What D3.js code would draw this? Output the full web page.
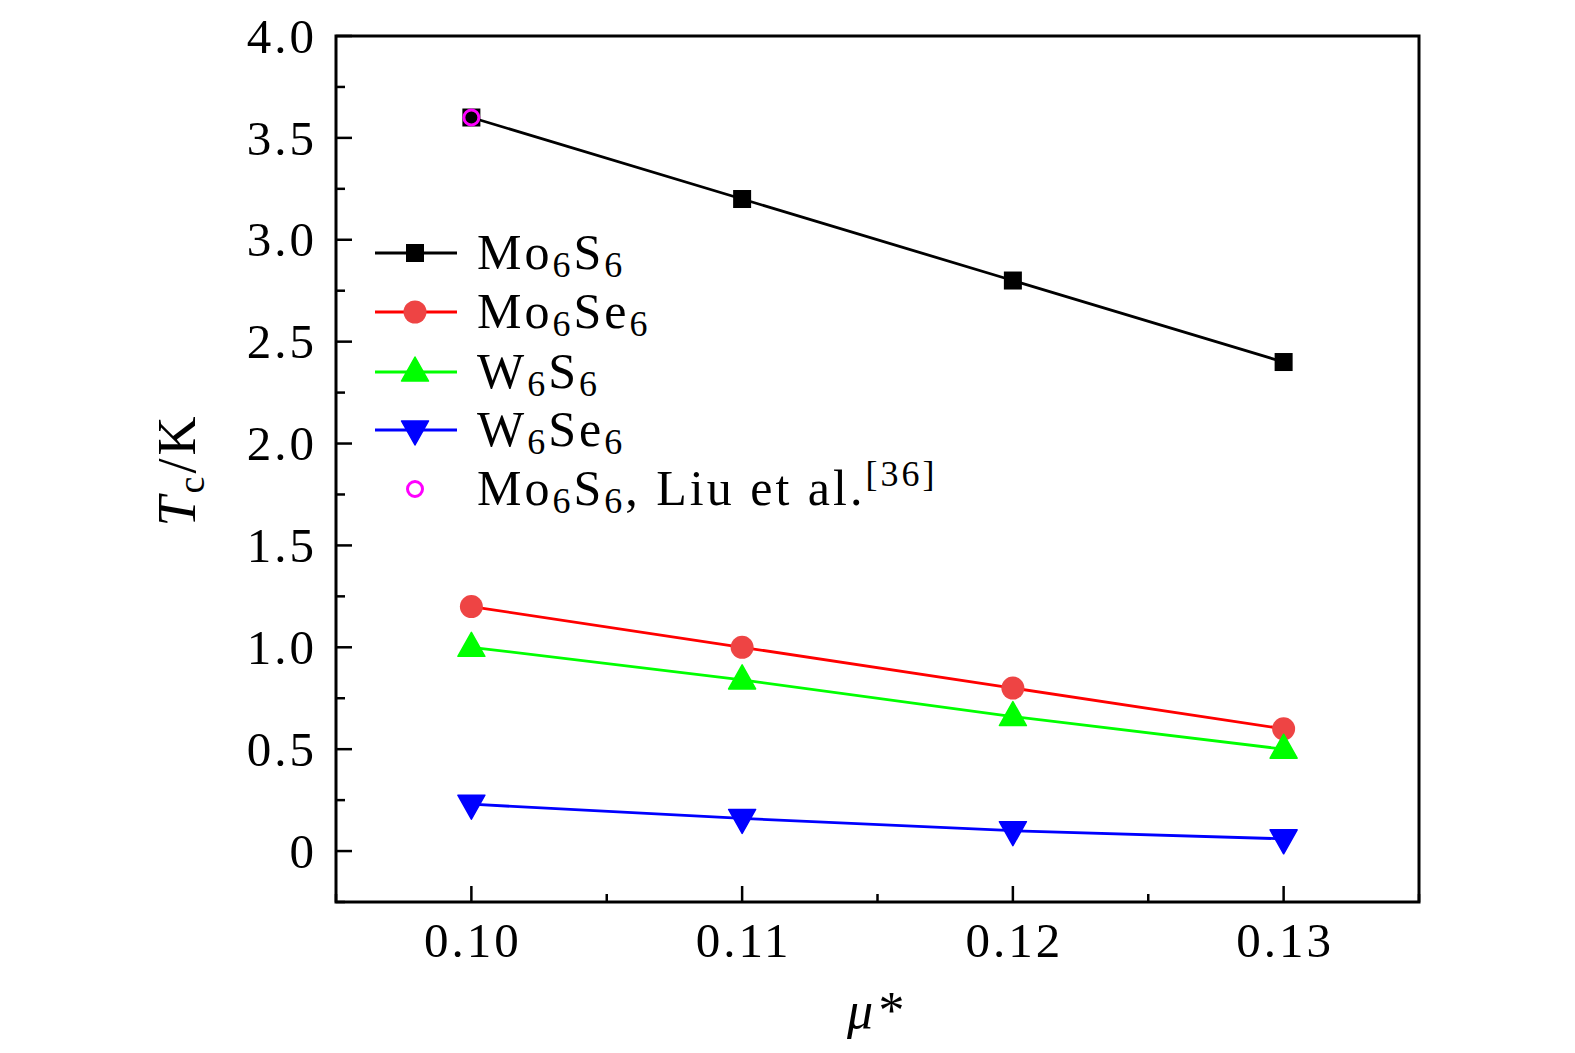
<!DOCTYPE html>
<html>
<head>
<meta charset="utf-8">
<script src="https://cdn.jsdelivr.net/npm/d3@7"></script>
<style>
body { margin: 0; background: #fff; }
text { font-family: "Liberation Serif", "DejaVu Serif", serif; fill: #000; }
</style>
</head>
<body>
<div id="graph"></div>
<script>
const mu = [0.10, 0.11, 0.12, 0.13];
const mo6s6 = [3.6, 3.2, 2.8, 2.4];
const mo6se6 = [1.2, 1.0, 0.8, 0.6];
const w6s6 = [1.0, 0.84, 0.66, 0.5];
const w6se6 = [0.23, 0.16, 0.1, 0.06];
const liu = [{x: 0.10, y: 3.6}];
const xTicks = [0.10, 0.11, 0.12, 0.13];
const yTicks = [0, 0.5, 1.0, 1.5, 2.0, 2.5, 3.0, 3.5, 4.0];

const W = 1575, H = 1053;
const pL = 336, pR = 1419, pT = 36, pB = 902;

const svg = d3.select('#graph')
  .append('svg')
  .attr('width', W)
  .attr('height', H);

const x = d3.scaleLinear().domain([0.095, 0.135]).range([pL, pR]);
const y = d3.scaleLinear().domain([-0.25, 4.0]).range([pB, pT]);

// series
const series = [
  {name: ['Mo', '6', 'S', '6'], vals: mo6s6, line: '#000000', fill: '#000000', shape: 'square'},
  {name: ['Mo', '6', 'Se', '6'], vals: mo6se6, line: '#ff0000', fill: '#ee4444', shape: 'circle'},
  {name: ['W', '6', 'S', '6'], vals: w6s6, line: '#00ff00', fill: '#00ff00', shape: 'up'},
  {name: ['W', '6', 'Se', '6'], vals: w6se6, line: '#0000ff', fill: '#0000ff', shape: 'down'}
];

function drawMarker(g, shape, cx, cy, fill) {
  if (shape === 'square') {
    g.append('rect').attr('x', cx - 9).attr('y', cy - 9)
      .attr('width', 18).attr('height', 18).attr('fill', fill);
  } else if (shape === 'circle') {
    g.append('circle').attr('cx', cx).attr('cy', cy).attr('r', 11.5).attr('fill', fill);
  } else if (shape === 'up') {
    g.append('path')
      .attr('d', `M${cx},${cy - 15} L${cx + 13.5},${cy + 9} L${cx - 13.5},${cy + 9} Z`)
      .attr('fill', fill).attr('stroke', fill).attr('stroke-width', 1.5).attr('stroke-linejoin', 'round');
  } else if (shape === 'down') {
    g.append('path')
      .attr('d', `M${cx},${cy + 15} L${cx + 13.5},${cy - 9} L${cx - 13.5},${cy - 9} Z`)
      .attr('fill', fill).attr('stroke', fill).attr('stroke-width', 1.5).attr('stroke-linejoin', 'round');
  }
}

const line = d3.line().x(d => x(d[0])).y(d => y(d[1]));

series.forEach(s => {
  const pts = mu.map((m, i) => [m, s.vals[i]]);
  svg.append('path').attr('d', line(pts))
    .attr('fill', 'none').attr('stroke', s.line).attr('stroke-width', 2.8);
});
series.forEach(s => {
  const g = svg.append('g');
  mu.forEach((m, i) => drawMarker(g, s.shape, x(m), y(s.vals[i]), s.fill));
});

// Liu et al. point
svg.selectAll('.liu').data(liu).enter().append('circle')
  .attr('cx', d => x(d.x)).attr('cy', d => y(d.y)).attr('r', 7.5)
  .attr('fill', 'none').attr('stroke', '#ff00ff').attr('stroke-width', 3);

// frame
svg.append('rect').attr('x', pL).attr('y', pT)
  .attr('width', pR - pL).attr('height', pB - pT)
  .attr('fill', 'none').attr('stroke', '#000').attr('stroke-width', 3);

// y ticks
const yMinor = [-0.25, 0.25, 0.75, 1.25, 1.75, 2.25, 2.75, 3.25, 3.75];
svg.selectAll('.ymaj').data(yTicks).enter().append('line')
  .attr('x1', pL).attr('x2', pL + 16).attr('y1', d => y(d)).attr('y2', d => y(d))
  .attr('stroke', '#000').attr('stroke-width', 2.5);
svg.selectAll('.ymin').data(yMinor).enter().append('line')
  .attr('x1', pL).attr('x2', pL + 9).attr('y1', d => y(d)).attr('y2', d => y(d))
  .attr('stroke', '#000').attr('stroke-width', 2.5);
svg.selectAll('.ylab').data(yTicks).enter().append('text')
  .attr('x', pL - 19).attr('y', d => y(d)).attr('dy', '0.34em')
  .attr('text-anchor', 'end').attr('font-size', 49).attr('letter-spacing', 3)
  .text(d => d === 0 ? '0' : d.toFixed(1));

// x ticks
const xMinor = [0.095, 0.105, 0.115, 0.125, 0.135];
svg.selectAll('.xmaj').data(xTicks).enter().append('line')
  .attr('x1', d => x(d)).attr('x2', d => x(d)).attr('y1', pB).attr('y2', pB - 16)
  .attr('stroke', '#000').attr('stroke-width', 2.5);
svg.selectAll('.xmin').data(xMinor).enter().append('line')
  .attr('x1', d => x(d)).attr('x2', d => x(d)).attr('y1', pB).attr('y2', pB - 8)
  .attr('stroke', '#000').attr('stroke-width', 2.5);
svg.selectAll('.xlab').data(xTicks).enter().append('text')
  .attr('x', d => x(d) + 1.5).attr('y', 957)
  .attr('text-anchor', 'middle').attr('font-size', 49).attr('letter-spacing', 3)
  .text(d => d.toFixed(2));

// axis titles
svg.append('text').attr('x', 876).attr('y', 1028).attr('text-anchor', 'middle')
  .attr('font-size', 52).attr('font-style', 'italic').attr('letter-spacing', 3).text('μ*');

const yt = svg.append('text').attr('transform', 'translate(195,470) rotate(-90)')
  .attr('text-anchor', 'middle').attr('font-size', 54).attr('letter-spacing', 3);
yt.append('tspan').attr('font-style', 'italic').text('T');
yt.append('tspan').attr('font-size', 38).attr('dy', 9).text('c');
yt.append('tspan').attr('dy', -9).text('/K');

// legend
const legY = [253, 312, 372, 430];
series.forEach((s, i) => {
  const g = svg.append('g');
  g.append('line').attr('x1', 375).attr('x2', 457).attr('y1', legY[i]).attr('y2', legY[i])
    .attr('stroke', s.line).attr('stroke-width', 2.8);
  drawMarker(g, s.shape, 415, legY[i], s.fill);
  const t = g.append('text').attr('x', 477).attr('y', legY[i] + 16).attr('font-size', 50).attr('letter-spacing', 3);
  t.append('tspan').text(s.name[0]);
  t.append('tspan').attr('font-size', 36).attr('dy', 8).text(s.name[1]);
  t.append('tspan').attr('dy', -8).text(s.name[2]);
  t.append('tspan').attr('font-size', 36).attr('dy', 8).text(s.name[3]);
});
svg.append('circle').attr('cx', 415).attr('cy', 489).attr('r', 7.5)
  .attr('fill', 'none').attr('stroke', '#ff00ff').attr('stroke-width', 3);
const lt = svg.append('text').attr('x', 477).attr('y', 505).attr('font-size', 50).attr('letter-spacing', 3);
lt.append('tspan').text('Mo');
lt.append('tspan').attr('font-size', 36).attr('dy', 8).text('6');
lt.append('tspan').attr('dy', -8).text('S');
lt.append('tspan').attr('font-size', 36).attr('dy', 8).text('6');
lt.append('tspan').attr('dy', -8).attr('xml:space', 'preserve').text(', Liu et al.');
lt.append('tspan').attr('font-size', 36).attr('dy', -19).text('[36]');
</script>
</body>
</html>
